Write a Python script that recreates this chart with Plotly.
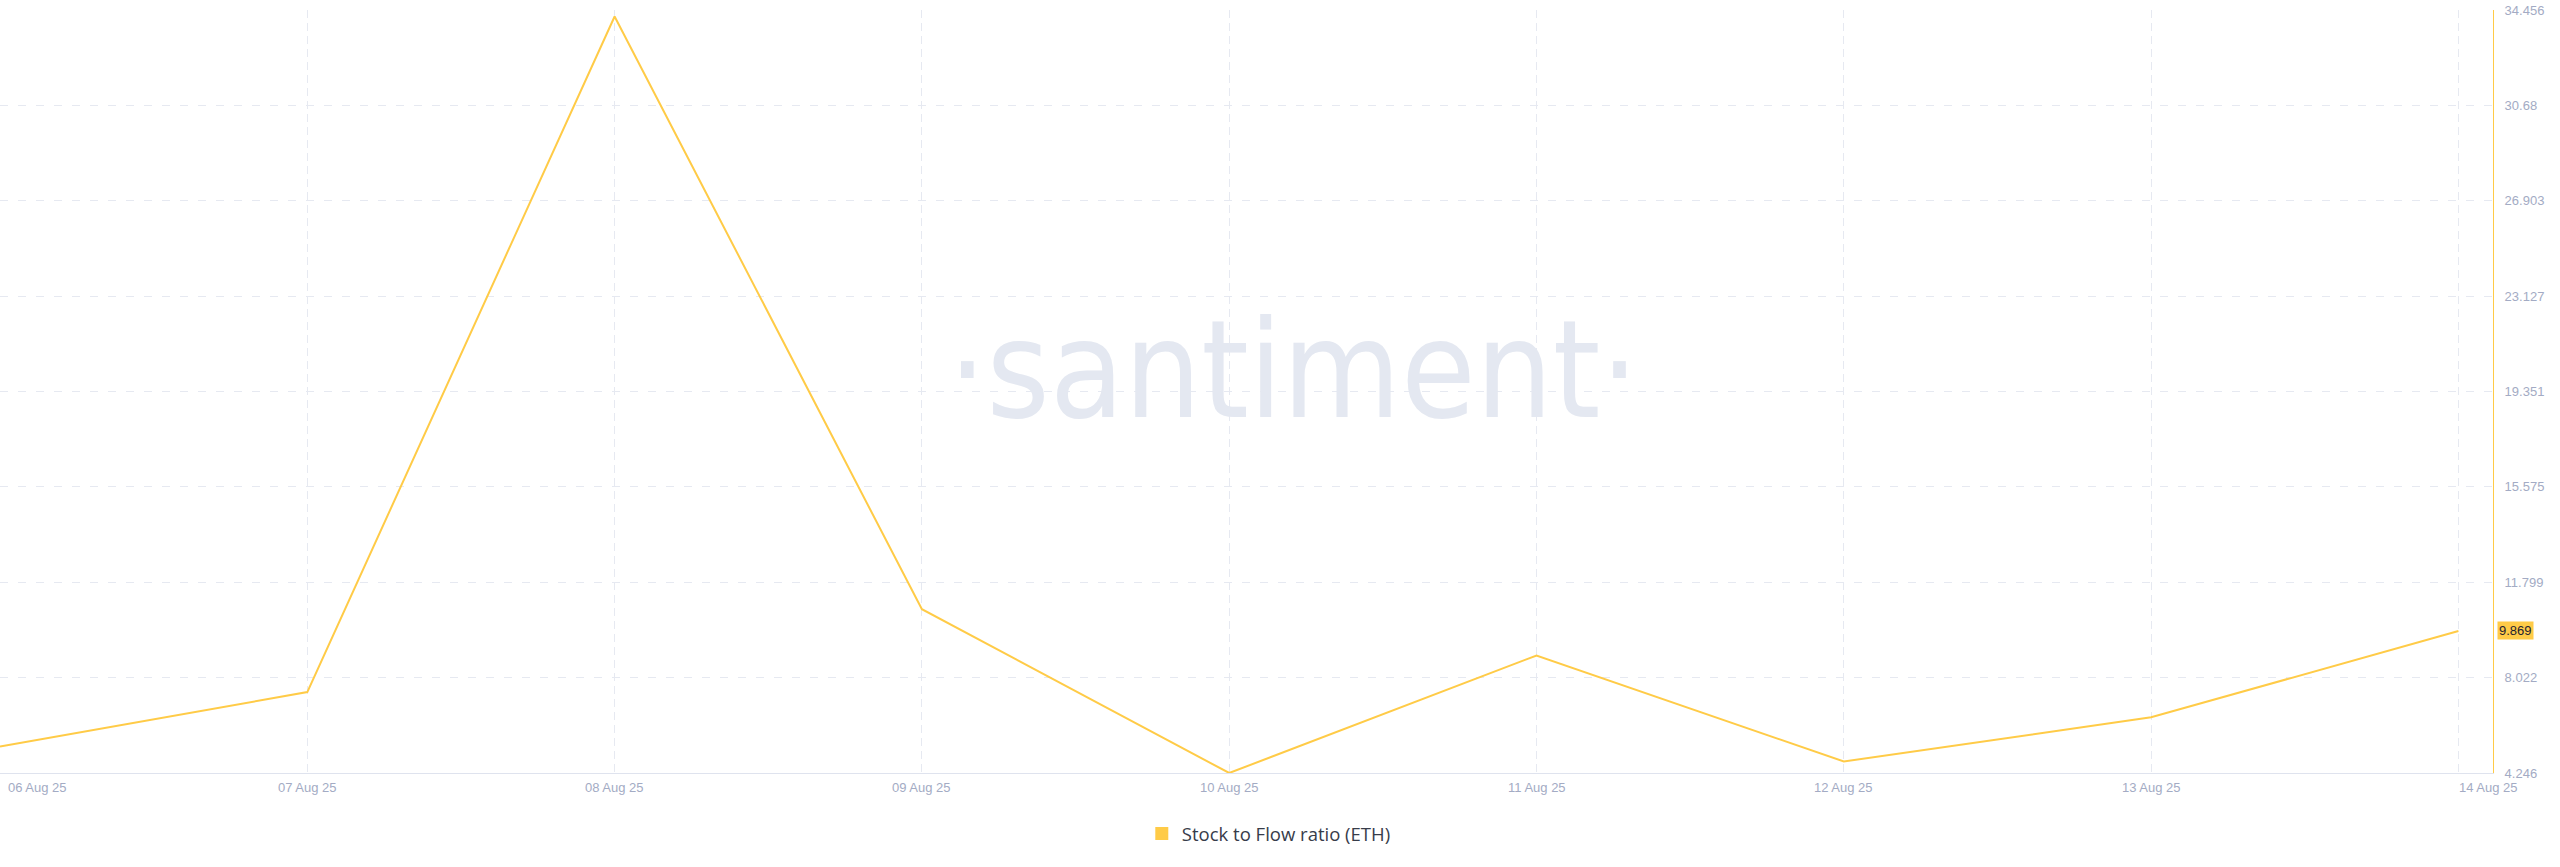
import plotly.graph_objects as go

# ---- data ----
dates = ["2025-08-06", "2025-08-07", "2025-08-08", "2025-08-09", "2025-08-10",
         "2025-08-11", "2025-08-12", "2025-08-13", "2025-08-14"]
date_labels = ["06 Aug 25", "07 Aug 25", "08 Aug 25", "09 Aug 25", "10 Aug 25",
               "11 Aug 25", "12 Aug 25", "13 Aug 25", "14 Aug 25"]
s2f_values = [5.29, 7.45, 34.2, 10.73, 4.246, 8.9, 4.7, 6.45, 9.869]
y_tick_labels = ["4.246", "8.022", "11.799", "15.575", "19.351",
                 "23.127", "26.903", "30.68", "34.456"]
series_name = "Stock to Flow ratio (ETH)"
last_value_label = "9.869"

LINE = "#ffcb47"
TICK_COL = "#a3abc4"
GRID = "#e6e9f1"

fig = go.Figure()
fig.add_trace(go.Scatter(
    x=dates, y=s2f_values, mode="lines",
    line=dict(color=LINE, width=2), showlegend=False, hoverinfo="skip"))
# legend proxy (square marker)
fig.add_trace(go.Scatter(
    x=[None], y=[None], mode="markers", name=series_name,
    marker=dict(symbol="square", size=13, color=LINE)))

annotations = []
# x tick labels
for i, (d, lab) in enumerate(zip(dates, date_labels)):
    if i == 0:
        xa, xs = "left", 6
    elif i == len(dates) - 1:
        xa, xs = "left", -1
    else:
        xa, xs = "center", 0
    annotations.append(dict(
        x=d, y=0, xref="x", yref="paper", text=lab, showarrow=False,
        xanchor=xa, yanchor="middle", xshift=xs, yshift=-14,
        font=dict(family="Liberation Sans, Arial", size=13, color=TICK_COL)))

# last value label
annotations.append(dict(
    x=1, y=s2f_values[-1], xref="paper", yref="y", text=last_value_label,
    showarrow=False, xanchor="left", yanchor="middle", xshift=4,
    bgcolor=LINE, borderpad=1,
    font=dict(family="Liberation Sans, Arial", size=13, color="#1f2330")))

# watermark
annotations.append(dict(
    x=0.519, y=0.527, xref="paper", yref="paper", text="·santiment·",
    showarrow=False, xanchor="center", yanchor="middle",
    font=dict(family="Liberation Sans Narrow, DejaVu Sans Condensed, Arial",
              size=135, color="#e4e8f1")))

fig.update_layout(
    width=2560, height=867,
    margin=dict(l=0, r=67, t=10, b=94),
    paper_bgcolor="white", plot_bgcolor="white",
    showlegend=True,
    legend=dict(orientation="h", x=0.458, xanchor="left", y=-0.08, yanchor="middle",
                font=dict(family="Open Sans, Lato", size=18.5, color="#373c4a"),
                itemclick=False, itemdoubleclick=False),
    annotations=annotations,
    hovermode=False,
)

fig.update_xaxes(
    type="date", range=["2025-08-06", "2025-08-14 02:42"],
    tickvals=dates, showticklabels=False, ticks="",
    showgrid=True, gridcolor=GRID, griddash="8px,5px", gridwidth=1,
    showline=True, linecolor="#dfe3ee", linewidth=1, mirror=False,
    zeroline=False)

fig.update_yaxes(
    side="right", range=[4.246, 34.456],
    tickvals=[float(t) for t in y_tick_labels], ticktext=y_tick_labels,
    ticks="", ticklabelstandoff=8,
    tickfont=dict(family="Liberation Sans, Arial", size=13, color=TICK_COL),
    showgrid=True, gridcolor=GRID, griddash="8px,10px", gridwidth=1,
    showline=True, linecolor=LINE, linewidth=1, zeroline=False)

fig.write_html("out.html",
               config={"displayModeBar": False, "staticPlot": True},
               post_script="document.body.style.margin='0';document.body.style.overflow='hidden';")
